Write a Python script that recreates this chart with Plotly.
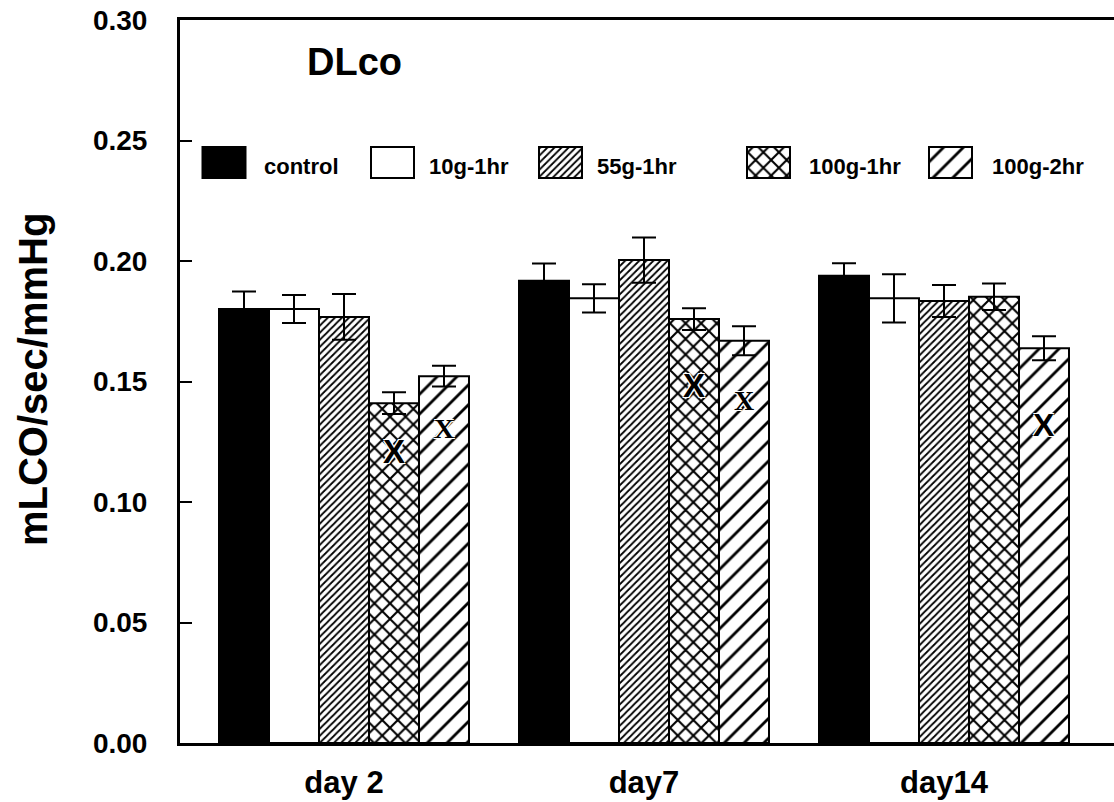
import plotly.graph_objects as go

# ---- data -------------------------------------------------------------
days = ["day 2", "day7", "day14"]
groups = ["control", "10g-1hr", "55g-1hr", "100g-1hr", "100g-2hr"]

control = [0.1801, 0.1918, 0.1939]
g10_1hr = [0.1801, 0.1845, 0.1845]
g55_1hr = [0.1768, 0.2004, 0.1834]
g100_1hr = [0.1410, 0.1759, 0.1852]
g100_2hr = [0.1522, 0.1669, 0.1638]

control_sem = [0.0072, 0.0072, 0.0052]
g10_1hr_sem = [0.0058, 0.0059, 0.0100]
g55_1hr_sem = [0.0095, 0.0094, 0.0066]
g100_1hr_sem = [0.0045, 0.0045, 0.0055]
g100_2hr_sem = [0.0043, 0.0060, 0.0050]

# significance marks: day index, group index, height of the mark
sig_day = [0, 0, 1, 1, 2]
sig_group = [3, 4, 3, 4, 4]
sig_y = [0.1209, 0.1307, 0.1485, 0.1423, 0.1320]

y_ticks = [0.00, 0.05, 0.10, 0.15, 0.20, 0.25, 0.30]

# ---- styles -------------------------------------------------------------
values = [control, g10_1hr, g55_1hr, g100_1hr, g100_2hr]
sems = [control_sem, g10_1hr_sem, g55_1hr_sem, g100_1hr_sem, g100_2hr_sem]
fill = ["black", "white", "white", "white", "white"]
hatch = ["", "", "/", "x", "/"]
hatch_size = [8, 8, 5, 11, 14]
hatch_solid = [0.3, 0.3, 0.36, 0.34, 0.2]
sig_font = ["Liberation Sans", "Liberation Serif", "Liberation Sans",
            "Liberation Serif", "Liberation Sans"]
sig_size = [33, 28, 33, 28, 32]
HALO = "1px 1px 0 white, -1px -1px 0 white, 1px -1px 0 white, -1px 1px 0 white"

BARGAP = 1 / 6
bar_w = (1 - BARGAP) / len(groups)

# legend geometry, in page pixels (x2 / y2 axes are mapped 1:1 to the page)
PLOT_L, PLOT_R, PLOT_T, PLOT_B = 180, 1114, 20, 743
leg_box_x = [224, 392.5, 560.5, 768.5, 950.5]
leg_box_w = 43
leg_box_top, leg_box_h = 147, 31
leg_text_x = [262, 427, 595, 807, 990]
leg_text_y = 166


def bar_marker(i):
    m = dict(color=fill[i], line=dict(color="black", width=2))
    if hatch[i]:
        m["pattern"] = dict(shape=hatch[i], size=hatch_size[i],
                            solidity=hatch_solid[i], fgcolor="black",
                            bgcolor=fill[i], fillmode="replace")
    return m


fig = go.Figure()

for i, name in enumerate(groups):
    fig.add_trace(go.Bar(
        name=name,
        x=list(range(len(days))),
        y=values[i],
        showlegend=False,
        marker=bar_marker(i),
        error_y=dict(type="data", array=sems[i], visible=True,
                     color="black", thickness=2, width=12),
    ))

# legend swatches
for i, name in enumerate(groups):
    fig.add_trace(go.Bar(
        x=[leg_box_x[i]],
        y=[leg_box_h],
        base=[leg_box_top],
        width=[leg_box_w],
        offset=-leg_box_w / 2,
        xaxis="x2", yaxis="y2",
        showlegend=False, hoverinfo="skip",
        marker=bar_marker(i),
    ))

annotations = []
for i, name in enumerate(groups):
    annotations.append(dict(
        x=leg_text_x[i], y=leg_text_y, xref="x2", yref="y2",
        text=name, showarrow=False, xanchor="left", yanchor="middle",
        font=dict(family="Liberation Sans", size=22, color="black",
                  weight="bold"),
    ))

for k in range(len(sig_y)):
    g = sig_group[k]
    annotations.append(dict(
        x=sig_day[k] + (g - (len(groups) - 1) / 2) * bar_w,
        y=sig_y[k], xref="x", yref="y",
        text="X", showarrow=False, xanchor="center", yanchor="middle",
        font=dict(family=sig_font[k], size=sig_size[k], color="black",
                  weight="bold", shadow=HALO),
    ))

annotations.append(dict(
    x=354, y=62, xref="x2", yref="y2", text="DLco", showarrow=False,
    xanchor="center", yanchor="middle",
    font=dict(family="Liberation Sans", size=38, color="black", weight="bold"),
))

annotations.append(dict(
    x=(33 - PLOT_L) / (PLOT_R - PLOT_L), y=0.502, xref="paper", yref="paper",
    text="mLCO/sec/mmHg", textangle=-90, showarrow=False,
    xanchor="center", yanchor="middle",
    font=dict(family="Liberation Sans", size=40, color="black", weight="bold"),
))

unit = 300.0
x_lo = -(344 - PLOT_L) / unit
x_hi = x_lo + (PLOT_R - PLOT_L) / unit

fig.update_layout(
    width=1114, height=802,
    margin=dict(l=PLOT_L, r=1114 - PLOT_R, t=PLOT_T, b=802 - PLOT_B),
    paper_bgcolor="white", plot_bgcolor="rgba(0,0,0,0)",
    barmode="group", bargap=BARGAP, bargroupgap=0,
    showlegend=False,
    annotations=annotations,
    xaxis=dict(
        range=[x_lo, x_hi], tickvals=list(range(len(days))), ticktext=days,
        showline=True, linecolor="black", linewidth=3, mirror=True,
        ticks="", showgrid=False, zeroline=False, ticklabelstandoff=10,
        tickfont=dict(family="Liberation Sans", size=31, color="black",
                      weight="bold"),
    ),
    yaxis=dict(
        range=[0, 0.30], tickvals=y_ticks, tickformat=".2f",
        showline=True, linecolor="black", linewidth=3,
        ticks="inside", ticklen=12, tickwidth=2, tickcolor="black",
        showgrid=False, zeroline=False, ticklabelstandoff=24,
        tickfont=dict(family="Liberation Sans", size=28, color="black",
                      weight="bold"),
    ),
    xaxis2=dict(overlaying="x", anchor="y2", range=[PLOT_L, PLOT_R],
                visible=False, fixedrange=True),
    yaxis2=dict(overlaying="y", anchor="x2", range=[PLOT_B, PLOT_T],
                visible=False, fixedrange=True),
)

fig.write_html("out.html")
